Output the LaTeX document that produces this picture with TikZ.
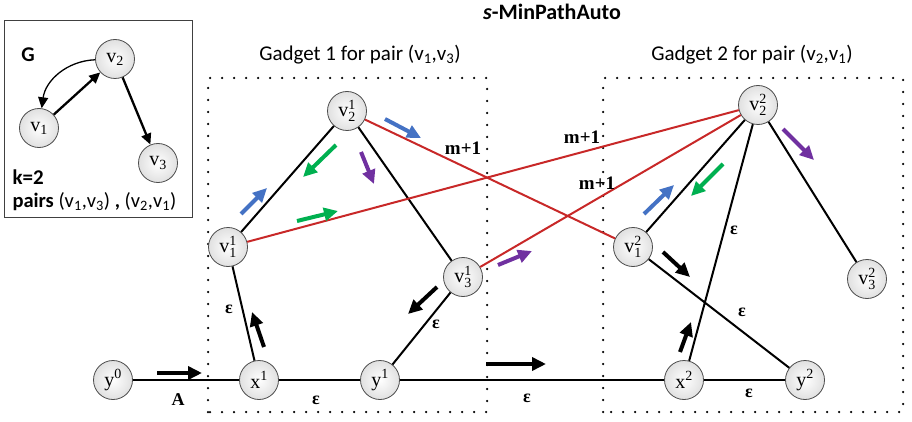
\documentclass[tikz,border=0pt]{standalone}
\usepackage{fontspec}
\usepackage{amsmath}
\setmainfont{Liberation Serif}
\newfontfamily\carl{Carlito}
\usetikzlibrary{arrows.meta}
\definecolor{redl}{RGB}{200,40,40}
\definecolor{bluea}{RGB}{68,114,196}
\definecolor{greena}{RGB}{0,176,80}
\definecolor{purplea}{RGB}{112,48,160}
\begin{document}
\begin{tikzpicture}[x=1pt,y=1pt,
 vert/.style={circle,draw=black!70,line width=0.8pt,inner color=white,outer color=black!12,minimum size=39pt,inner sep=0pt,font=\fontsize{20}{22}\selectfont},
 edge/.style={line width=2pt},
 rededge/.style={line width=2pt,draw=redl},
 garrow/.style={line width=2.3pt,-{Triangle[length=11pt,width=10pt]}},
 carrow/.style={line width=4pt,-{Triangle[length=14pt,width=13pt]}},
 dotbox/.style={line width=2.5pt,line cap=round,dash pattern=on 0pt off 12pt},
 eps/.style={font=\fontsize{18}{20}\selectfont\bfseries},
 mlab/.style={font=\fontsize{19}{21}\selectfont\bfseries},
 clab/.style={font=\carl\fontsize{21}{23}\selectfont},
 cblab/.style={font=\carl\bfseries\fontsize{21}{23}\selectfont}]
\useasboundingbox (0,0) rectangle (912,421);
% G box
\draw[line width=1pt,draw=black!75] (4,204) rectangle (192,400);
\node[cblab] (G) at (28,366) {G};
\node[vert] (Gv2) at (115,362) {v$_{\text{2}}$};
\node[vert] (Gv1) at (39,293) {v$_{\text{1}}$};
\node[vert] (Gv3) at (158,258) {v$_{\text{3}}$};
\draw[garrow] (Gv1) -- (Gv2);
\draw[garrow] (Gv2) -- (Gv3);
\draw[garrow,line width=1.3pt] (Gv2) to[bend right=40] (Gv1);
\node[cblab,anchor=west] (k) at (9,244) {k=2};
\node[font=\carl\fontsize{20.5}{22}\selectfont,anchor=west] (pairs) at (9,219) {\textbf{pairs} (v\textsubscript{1},v\textsubscript{3}) \textbf{,} (v\textsubscript{2},v\textsubscript{1})};
% titles
\node[cblab,font=\carl\bfseries\fontsize{22}{24}\selectfont] (title) at (552,409) {\textit{s}-MinPathAuto};
\node[clab] (g1) at (360,366) {Gadget 1 for pair (v\textsubscript{1},v\textsubscript{3})};
\node[clab] (g2) at (752,366) {Gadget 2 for pair (v\textsubscript{2},v\textsubscript{1})};
% dotted boxes
\draw[dotbox] (208,9) rectangle (487,343);
\draw[dotbox] (603,9) rectangle (903,343);
% nodes
\node[vert] (y0) at (113,41) {y$^{\text{0}}$};
\node[vert] (x1) at (259,41) {x$^{\text{1}}$};
\node[vert] (y1) at (380,41) {y$^{\text{1}}$};
\node[vert] (v11) at (228,174) {v$^{\text{1}}_{\text{1}}$};
\node[vert] (v21) at (347,310) {v$^{\text{1}}_{\text{2}}$};
\node[vert] (v31) at (463,144) {v$^{\text{1}}_{\text{3}}$};
\node[vert] (x2) at (684,41) {x$^{\text{2}}$};
\node[vert] (y2) at (805,41) {y$^{\text{2}}$};
\node[vert] (v12) at (633,174) {v$^{\text{2}}_{\text{1}}$};
\node[vert] (v22) at (758,316) {v$^{\text{2}}_{\text{2}}$};
\node[vert] (v32) at (867,142) {v$^{\text{2}}_{\text{3}}$};
% black edges
\draw[edge] (y0) -- (x1) -- (y1) -- (x2) -- (y2);
\draw[edge] (x1) -- (v11) -- (v21) -- (v31) -- (y1);
\draw[edge] (x2) -- (v22) -- (v12) -- (y2);
\draw[edge] (v22) -- (v32);
% red edges
\draw[rededge] (v21) -- (v12);
\draw[rededge] (v11) -- (v22);
\draw[rededge] (v31) -- (v22);
% labels
\node[mlab] (m1) at (463,273) {m+1};
\node[mlab] (m2) at (582,284) {m+1};
\node[mlab] (m3) at (597,238) {m+1};
\node[eps] (e1) at (229,112) {ε};
\node[eps] (e2) at (436,97) {ε};
\node[eps] (e3) at (316,21) {ε};
\node[eps] (e4) at (527,23) {ε};
\node[eps] (e5) at (734,191) {ε};
\node[eps] (e6) at (742,109) {ε};
\node[eps] (e7) at (749,28) {ε};
\node[eps] (A) at (178,21) {A};
% coloured arrows
\coordinate (b1s) at (385,302); \coordinate (b1e) at (421,283);
\coordinate (g1s) at (336,276); \coordinate (g1e) at (303,244);
\coordinate (p1s) at (361,269); \coordinate (p1e) at (374,237);
\coordinate (b2s) at (241,207); \coordinate (b2e) at (267,233);
\coordinate (g2s) at (297,200); \coordinate (g2e) at (338,210);
\coordinate (p2s) at (783,292); \coordinate (p2e) at (814,261);
\coordinate (g3s) at (723,257); \coordinate (g3e) at (691,225);
\coordinate (b3s) at (644,207); \coordinate (b3e) at (674,236);
\coordinate (p3s) at (498,156); \coordinate (p3e) at (532,170);
\coordinate (k1s) at (264,74); \coordinate (k1e) at (252,109);
\coordinate (k2s) at (437,134); \coordinate (k2e) at (408,107);
\coordinate (k3s) at (486,57); \coordinate (k3e) at (546,57);
\coordinate (kAs) at (157,48); \coordinate (kAe) at (202,48);
\coordinate (k4s) at (663,169); \coordinate (k4e) at (690,144);
\coordinate (k5s) at (680,69); \coordinate (k5e) at (691,99);
\draw[carrow,bluea] (b1s) -- (b1e);
\draw[carrow,bluea] (b2s) -- (b2e);
\draw[carrow,bluea] (b3s) -- (b3e);
\draw[carrow,greena] (g1s) -- (g1e);
\draw[carrow,greena] (g2s) -- (g2e);
\draw[carrow,greena] (g3s) -- (g3e);
\draw[carrow,purplea] (p1s) -- (p1e);
\draw[carrow,purplea] (p2s) -- (p2e);
\draw[carrow,purplea] (p3s) -- (p3e);
\draw[carrow] (k1s) -- (k1e);
\draw[carrow] (k2s) -- (k2e);
\draw[carrow] (k3s) -- (k3e);
\draw[carrow] (kAs) -- (kAe);
\draw[carrow] (k4s) -- (k4e);
\draw[carrow] (k5s) -- (k5e);
\end{tikzpicture}
\end{document}
